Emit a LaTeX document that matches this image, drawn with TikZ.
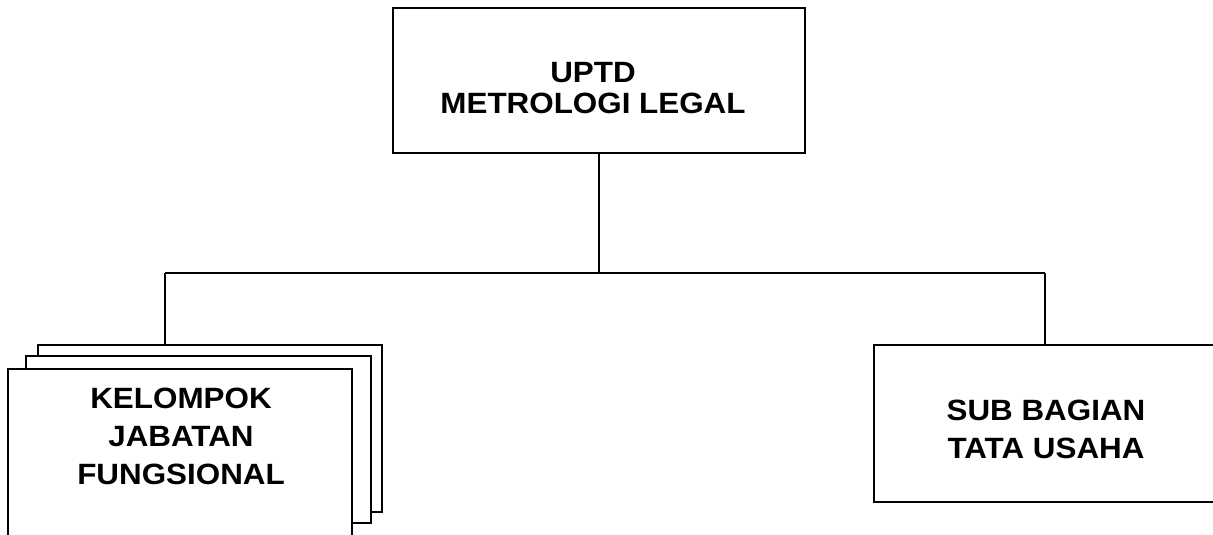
\documentclass[tikz,border=0pt]{standalone}
\usepackage{fontspec}
\setmainfont[FakeStretch=1.07]{Liberation Sans}
\begin{document}
\begin{tikzpicture}[x=0.75pt,y=-0.75pt,
  box/.style={draw=black,fill=white,line width=1.4pt,rectangle,inner sep=0pt,outer sep=0pt},
  conn/.style={draw=black,line width=1pt},
  ttlA/.style={align=center,font=\bfseries\fontsize{22}{23.5}\selectfont,inner sep=0pt},
  ttlB/.style={align=center,font=\bfseries\fontsize{22}{28.5}\selectfont,inner sep=0pt}]
\useasboundingbox (0,0) rectangle (1213,535);
\clip (0,0) rectangle (1213,535);
% top box
\node[box,minimum width=309pt,minimum height=108.75pt] (top) at (599,80.5) {};
\node[ttlA] (toptxt) at (593,88) {UPTD\\METROLOGI LEGAL};
% stacked boxes
\node[box,minimum width=258pt,minimum height=125.25pt] (back) at (210,428.5) {};
\node[box,minimum width=258.75pt,minimum height=125.25pt] (mid) at (198.5,439.5) {};
\node[box,minimum width=258pt,minimum height=129pt] (front) at (180,455) {};
\node[ttlB] (fronttxt) at (181,436) {KELOMPOK\\JABATAN\\FUNGSIONAL};
% right box
\node[box,minimum width=256.5pt,minimum height=117.75pt] (tu) at (1045,423.5) {};
\node[ttlB] (tutxt) at (1046,429.5) {SUB BAGIAN\\TATA USAHA};
% connectors
\coordinate (bus) at (599,273);
\coordinate (jl) at (165,273);
\coordinate (jr) at (1045,273);
\draw[conn] (top.south) -- (bus);
\draw[conn] (jl) -- (jr);
\draw[conn] (jl) -- (jl |- back.north);
\draw[conn] (jr) -- (tu.north);
\end{tikzpicture}
\end{document}
